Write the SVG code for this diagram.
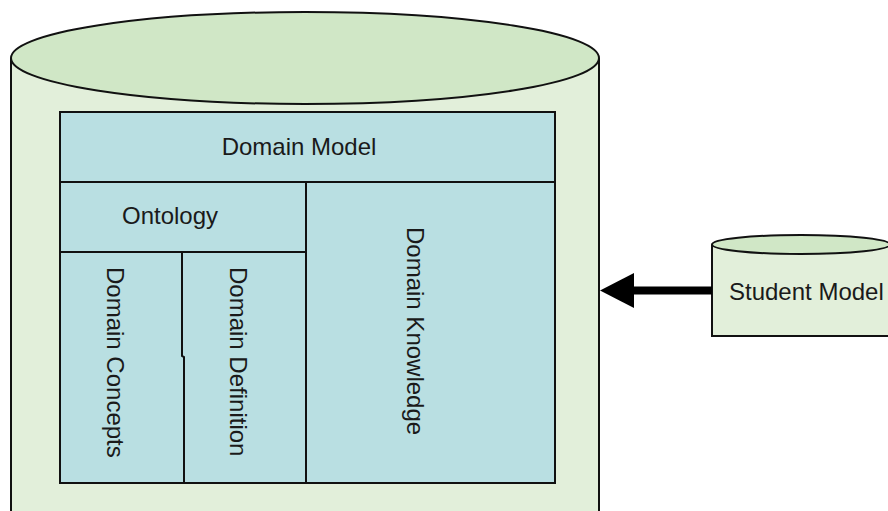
<svg xmlns="http://www.w3.org/2000/svg" width="888" height="511" viewBox="0 0 888 511">
  <style>
    .body { fill: #E2EFDA; stroke: #111; stroke-width: 2; }
    .top { fill: #D0E7C6; stroke: #111; stroke-width: 2; }
    .cell { fill: #B9DFE2; stroke: #111; stroke-width: 2; }
    .line { fill: none; stroke: #111; stroke-width: 2; }
    .lbl { font-family: "Liberation Sans", Arial, sans-serif; font-size: 24px; fill: #1a1a1a; }
  </style>
  <rect width="888" height="511" fill="#ffffff"/>

  <g id="knowledge-base">
    <path class="body" d="M11,58 L11,520 L599,520 L599,58"/>
    <ellipse class="top" cx="305" cy="58" rx="294" ry="46"/>
  </g>

  <g id="domain-model">
    <rect class="cell" x="60" y="112" width="495" height="371"/>
    <line class="line" x1="60" y1="182" x2="555" y2="182"/>
    <text class="lbl" x="299" y="155" text-anchor="middle">Domain Model</text>
  </g>

  <g id="ontology">
    <line class="line" x1="60" y1="252" x2="306" y2="252"/>
    <text class="lbl" x="170" y="224" text-anchor="middle">Ontology</text>
  </g>

  <g id="domain-knowledge">
    <line class="line" x1="306" y1="182" x2="306" y2="483"/>
    <text class="lbl" transform="translate(407,227) rotate(90)">Domain Knowledge</text>
  </g>

  <g id="domain-concepts">
    <polyline class="line" points="182,252 182,356 184,357 184,483"/>
    <text class="lbl" transform="translate(107,267) rotate(90)">Domain Concepts</text>
  </g>

  <g id="domain-definition">
    <text class="lbl" transform="translate(230,267) rotate(90)">Domain Definition</text>
  </g>

  <g id="student-model">
    <path class="body" d="M712,244.5 L712,336 L900,336 L900,244.5"/>
    <ellipse class="top" cx="801" cy="244.5" rx="89" ry="9.5"/>
    <text class="lbl" x="729" y="300">Student Model</text>
  </g>

  <g id="connectors">
    <line x1="712" y1="290.5" x2="630" y2="290.5" stroke="#000" stroke-width="8"/>
    <polygon points="600,290.5 634,273 634,308" fill="#000"/>
  </g>
</svg>
